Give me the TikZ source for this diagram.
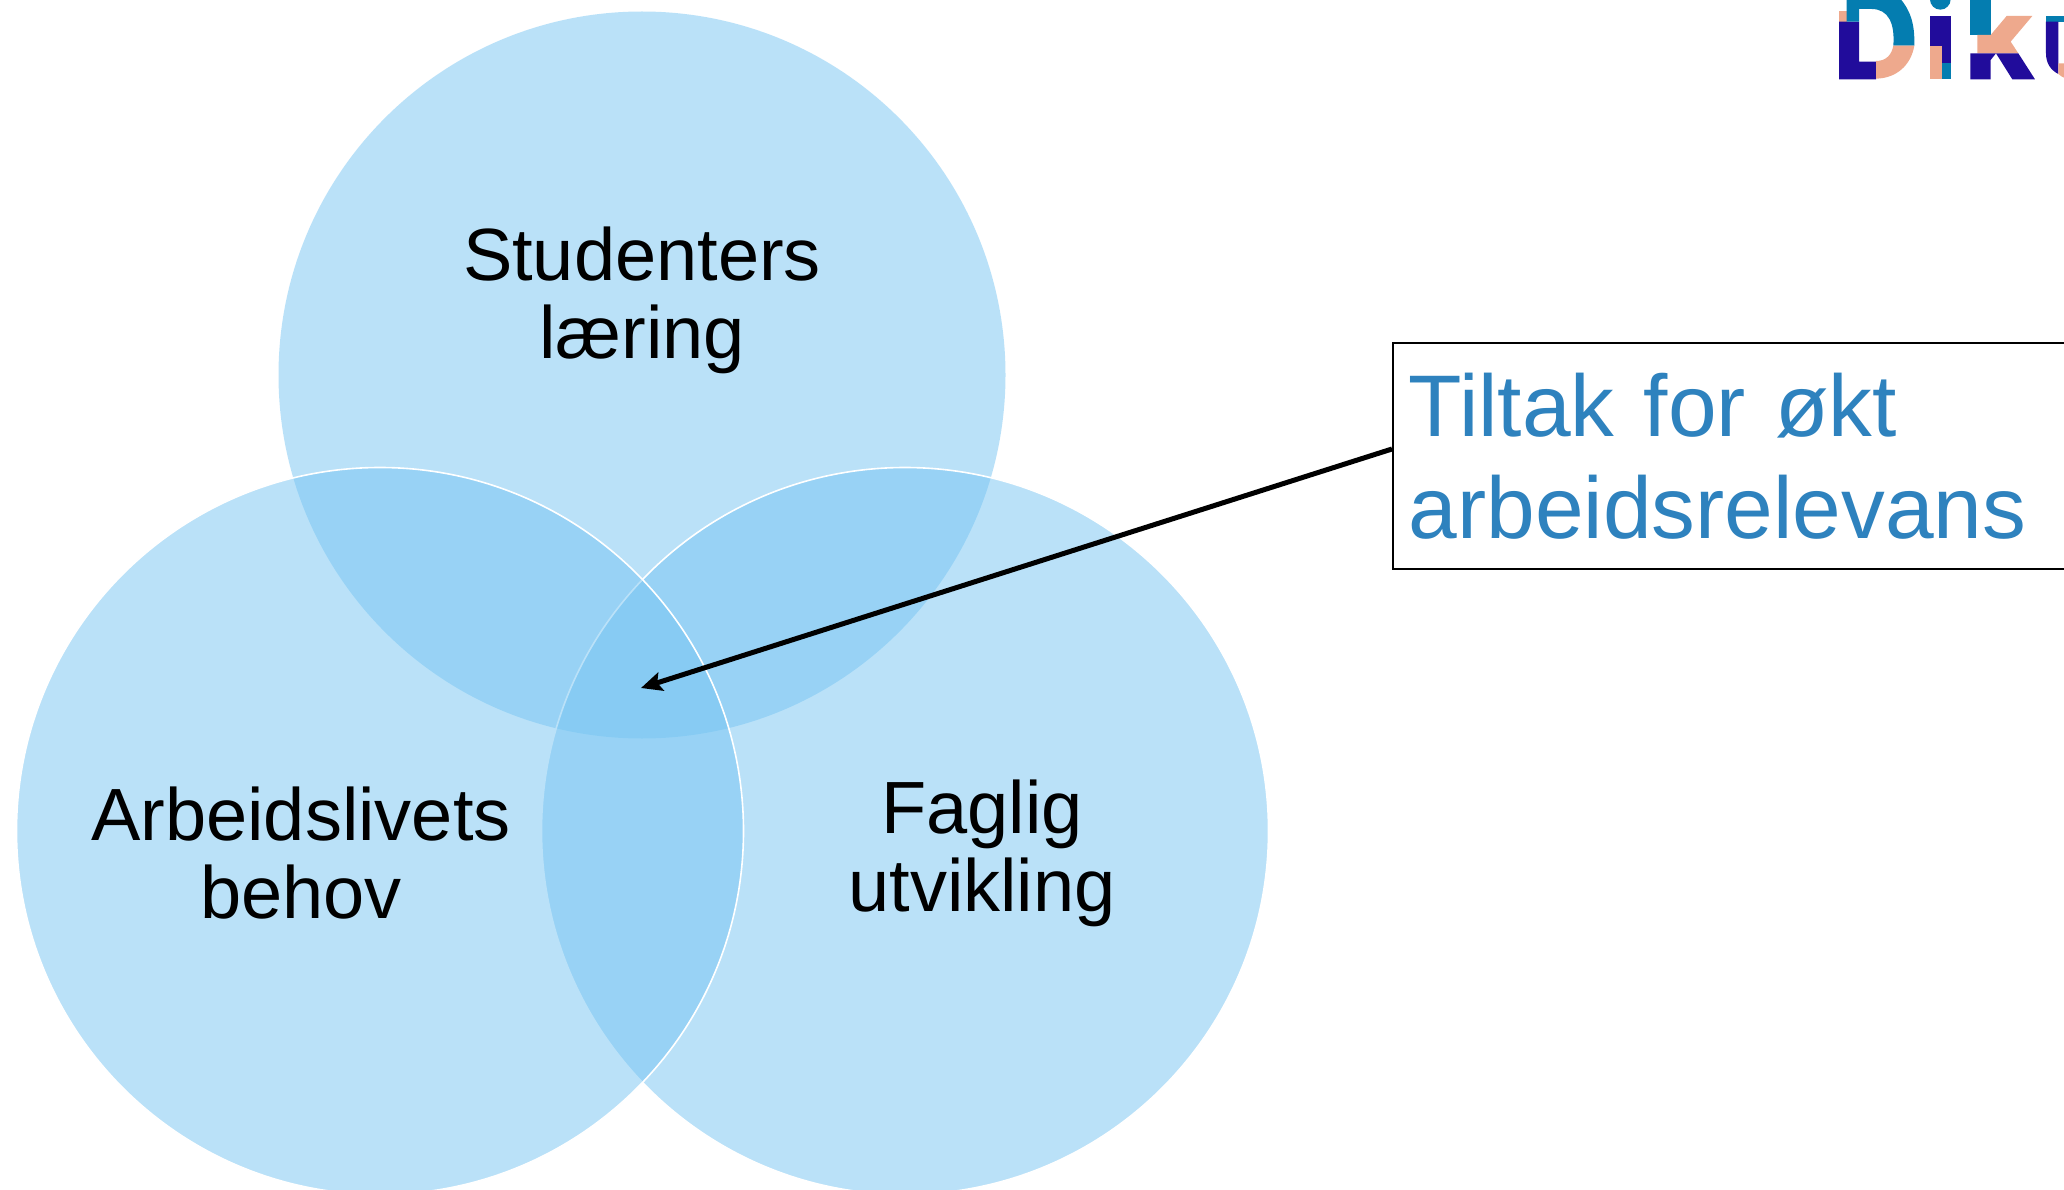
\documentclass[tikz,border=0pt]{standalone}
\usepackage{fontspec}
\setmainfont{Liberation Sans}
\usetikzlibrary{arrows.meta}
\definecolor{venn}{HTML}{77C5F3}
\definecolor{tiltak}{HTML}{2E82BE}
\definecolor{lnavy}{HTML}{210C9B}
\definecolor{lteal}{HTML}{047DB0}
\definecolor{lpeach}{HTML}{EEA98D}
\tikzset{
  vennfill/.style={circle,inner sep=0pt,minimum size=727pt,fill=venn,fill opacity=.5},
  vennline/.style={vennfill,draw=white,draw opacity=1,line width=1.6pt},
  vennlabel/.style={align=center,text=black,font=\fontsize{74}{78}\selectfont,inner sep=0pt},
  logobit/.style={draw=none}
}
\begin{document}
\begin{tikzpicture}[x=1pt,y=-1pt]
\useasboundingbox (0,0) rectangle (2064,1190);
\clip (0,0) rectangle (2064,1190);
\fill[white] (0,0) rectangle (2064,1190);
\node[vennfill] (top) at (642,375) {};
\node[vennline] (right) at (905,831) {};
\node[vennline] (left) at (380,831) {};
\node[vennlabel] (studenter) at (642,300) {Studenters\\læring};
\node[vennlabel] (arbeid) at (301,853) {Arbeidslivets\\behov};
\node[vennlabel] (faglig) at (982,853) {Faglig\\utvikling};
\node[draw=black,line width=1.6pt,fill=white,anchor=west,text=tiltak,align=left,
      minimum height=226pt,text width=700pt,inner xsep=16pt,inner ysep=0pt,
      font=\fontsize{87.5}{102}\selectfont] (box) at (1392,456) {Tiltak for økt\\arbeidsrelevans};
\coordinate (tip) at (641,688);
\draw[line width=5pt,-{Stealth[length=21pt,width=19pt,inset=4pt]}] ([yshift=7pt]box.west) -- (tip);
% logo, coordinates in the crop's own pixels
\begin{scope}[shift={(1780,0)},x=0.3333pt,y=-0.3333pt]
\fill[lpeach] (177,33) rectangle (200,65);
\fill[lnavy] (177,65) -- (237,65) -- (237,185) -- (288,185) -- (288,238) -- (177,238) -- cycle;
\fill[lteal] (200,-5) -- (360,-5) .. controls (390,30) and (405,70) .. (403,137) -- (340,137) .. controls (345,70) and (325,27) .. (275,27) -- (237,27) -- (237,65) -- (200,65) -- cycle;
\fill[lpeach] (403,137) .. controls (393,195) and (350,235) .. (288,236) -- (288,183) .. controls (318,183) and (335,165) .. (340,137) -- cycle;
\fill[lteal] (481,-2) circle[radius=31];
\fill[lnavy] (450,48) rectangle (512,137);
\fill[lnavy] (485,137) rectangle (512,190);
\fill[lpeach] (450,137) rectangle (485,238);
\fill[lteal] (485,190) rectangle (512,238);
\fill[lteal] (571,-5) rectangle (632,105);
\fill[lpeach] (680,48) -- (757,48) -- (692,125) -- (715,160) -- (592,160) -- (592,105) -- (632,105) -- cycle;
\fill[lnavy] (571,160) -- (715,160) -- (765,238) -- (697,238) -- (648,160) -- (632,180) -- (632,238) -- (571,238) -- cycle;
\fill[lteal] (798,48) rectangle (860,65);
\fill[lnavy] (798,65) -- (835,65) -- (835,190) -- (835,222) .. controls (812,210) and (798,190) .. (798,160) -- cycle;
\fill[lpeach] (835,190) -- (860,190) -- (860,236) .. controls (850,234) and (842,228) .. (835,222) -- cycle;
\end{scope}
\end{tikzpicture}
\end{document}
